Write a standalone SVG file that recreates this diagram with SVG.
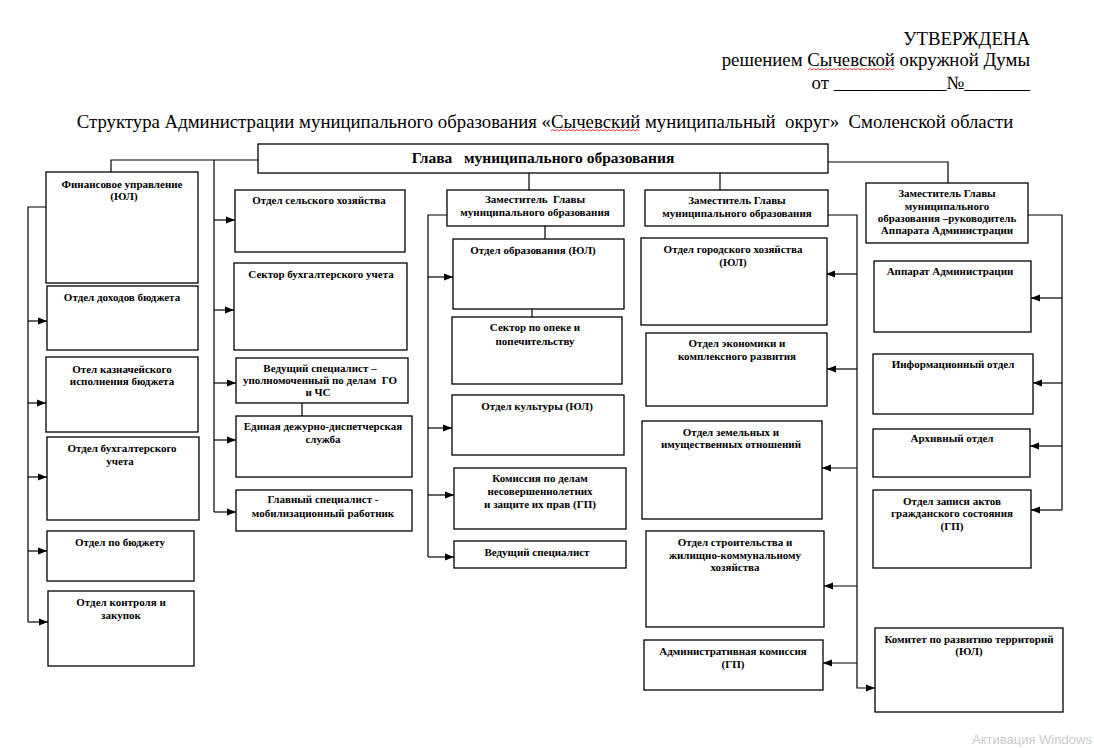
<svg xmlns="http://www.w3.org/2000/svg" width="1094" height="748" viewBox="0 0 1094 748">
<defs>
<marker id="ah" markerWidth="9" markerHeight="8" refX="9" refY="4" orient="auto" markerUnits="userSpaceOnUse"><path d="M0,0.5 L9,4 L0,7.5 z" fill="#000"/></marker>
<style>
.box{fill:#fff;stroke:#000;stroke-width:1.3}
.lbl{font-family:"Liberation Serif","Times New Roman",serif;font-weight:bold;font-size:11px;text-anchor:middle;fill:#000}
.head{font-family:"Liberation Serif","Times New Roman",serif;font-weight:bold;font-size:15.5px;text-anchor:middle;fill:#000}
.hdr{font-family:"Liberation Serif","Times New Roman",serif;font-size:18.8px;fill:#000}
.ln{fill:none;stroke:#000;stroke-width:1.2}
.arr{marker-end:url(#ah)}
.sq{fill:none;stroke:#e03030;stroke-width:0.9}
</style>
</defs>
<rect width="1094" height="748" fill="#fff"/>

<g id="header">
<text class="hdr" x="1030" y="45" text-anchor="end">УТВЕРЖДЕНА</text>
<text class="hdr" x="1030" y="66" text-anchor="end">решением Сычевской окружной Думы</text>
<text class="hdr" x="1030" y="89" text-anchor="end">от ____________№_______</text>
<path class="sq" d="M808,70 l2,-1.5 l2,1.5 l2,-1.5 l2,1.5 l2,-1.5 l2,1.5 l2,-1.5 l2,1.5 l2,-1.5 l2,1.5 l2,-1.5 l2,1.5 l2,-1.5 l2,1.5 l2,-1.5 l2,1.5 l2,-1.5 l2,1.5 l2,-1.5 l2,1.5 l2,-1.5 l2,1.5 l2,-1.5 l2,1.5 l2,-1.5 l2,1.5 l2,-1.5 l2,1.5 l2,-1.5 l2,1.5 l2,-1.5 l2,1.5 l2,-1.5 l2,1.5 l2,-1.5 l2,1.5 l2,-1.5 l2,1.5 l2,-1.5 l2,1.5 l2,-1.5 l2,1.5 l2,-1.5"/>
<text class="hdr" x="545" y="128" text-anchor="middle" xml:space="preserve">Структура Администрации муниципального образования «Сычевский муниципальный  округ»  Смоленской области</text>
<path class="sq" d="M551,131 l2,-1.5 l2,1.5 l2,-1.5 l2,1.5 l2,-1.5 l2,1.5 l2,-1.5 l2,1.5 l2,-1.5 l2,1.5 l2,-1.5 l2,1.5 l2,-1.5 l2,1.5 l2,-1.5 l2,1.5 l2,-1.5 l2,1.5 l2,-1.5 l2,1.5 l2,-1.5 l2,1.5 l2,-1.5 l2,1.5 l2,-1.5 l2,1.5 l2,-1.5 l2,1.5 l2,-1.5 l2,1.5 l2,-1.5 l2,1.5 l2,-1.5 l2,1.5 l2,-1.5 l2,1.5 l2,-1.5 l2,1.5 l2,-1.5 l2,1.5 l2,-1.5 l2,1.5 l2,-1.5 l2,1.5"/>
</g>

<g id="connectors">
<path class="ln" d="M258,160 H111 V172"/>
<path class="ln" d="M214,160 V512"/>
<path class="ln arr" d="M214,220 H235"/>
<path class="ln arr" d="M214,310 H234"/>
<path class="ln arr" d="M214,383 H236"/>
<path class="ln arr" d="M214,440 H236"/>
<path class="ln arr" d="M214,512 H236"/>
<path class="ln" d="M46,207 H28 V622"/>
<path class="ln arr" d="M28,321 H47"/>
<path class="ln arr" d="M28,403 H46"/>
<path class="ln arr" d="M28,477 H47"/>
<path class="ln arr" d="M28,551 H47"/>
<path class="ln arr" d="M28,622 H48"/>
<path class="ln" d="M302,403 V416"/>
<path class="ln" d="M529,173 V190"/>
<path class="ln" d="M545,226 V239"/>
<path class="ln" d="M532,309 V317"/>
<path class="ln" d="M447,215 H428 V557"/>
<path class="ln arr" d="M428,277 H453"/>
<path class="ln arr" d="M428,428 H452"/>
<path class="ln arr" d="M428,495 H454"/>
<path class="ln arr" d="M428,557 H454"/>
<path class="ln" d="M720,173 V190"/>
<path class="ln arr" d="M828,215 H857 V688 H875"/>
<path class="ln arr" d="M857,274 H826"/>
<path class="ln arr" d="M857,369 H827"/>
<path class="ln arr" d="M857,468 H822"/>
<path class="ln arr" d="M857,586 H824"/>
<path class="ln arr" d="M857,663 H823"/>
<path class="ln" d="M828,162 H948 V183"/>
<path class="ln" d="M1028,215 H1062 V510"/>
<path class="ln arr" d="M1062,298 H1031"/>
<path class="ln arr" d="M1062,383 H1033"/>
<path class="ln arr" d="M1062,446 H1030"/>
<path class="ln arr" d="M1062,510 H1031"/>
</g>

<g id="n-head"><rect class="box" x="258" y="144" width="570" height="29"/><text class="head" x="543" y="163" xml:space="preserve">Глава   муниципального образования</text></g>

<g id="n-fin"><rect class="box" x="46" y="172" width="152" height="111"/><text class="lbl" x="122" y="188">Финансовое управление</text><text class="lbl" x="124" y="200">(ЮЛ)</text></g>
<g id="n-dohod"><rect class="box" x="47" y="286" width="151" height="64"/><text class="lbl" x="122" y="301">Отдел доходов бюджета</text></g>
<g id="n-kazn"><rect class="box" x="46" y="357" width="152" height="75"/><text class="lbl" x="122" y="373">Отел казначейского</text><text class="lbl" x="122" y="385">исполнения бюджета</text></g>
<g id="n-buh"><rect class="box" x="47" y="437" width="152" height="83"/><text class="lbl" x="122" y="452">Отдел бухгалтерского</text><text class="lbl" x="120" y="465">учета</text></g>
<g id="n-budg"><rect class="box" x="47" y="531" width="147" height="50"/><text class="lbl" x="120" y="546">Отдел по бюджету</text></g>
<g id="n-kontr"><rect class="box" x="48" y="591" width="146" height="75"/><text class="lbl" x="121" y="606">Отдел контроля и</text><text class="lbl" x="121" y="619">закупок</text></g>

<g id="n-selh"><rect class="box" x="235" y="190" width="170" height="62"/><text class="lbl" x="319" y="204">Отдел сельского хозяйства</text></g>
<g id="n-sektbuh"><rect class="box" x="234" y="263" width="173" height="87"/><text class="lbl" x="321" y="278">Сектор бухгалтерского учета</text></g>
<g id="n-go"><rect class="box" x="236" y="358" width="172" height="45"/><text class="lbl" x="320" y="372">Ведущий специалист –</text><text class="lbl" x="320" y="384" xml:space="preserve">уполномоченный по делам  ГО</text><text class="lbl" x="318" y="396">и ЧС</text></g>
<g id="n-edds"><rect class="box" x="236" y="416" width="176" height="61"/><text class="lbl" x="323" y="430">Единая дежурно-диспетчерская</text><text class="lbl" x="323" y="443">служба</text></g>
<g id="n-mob"><rect class="box" x="236" y="490" width="176" height="41"/><text class="lbl" x="323" y="503">Главный специалист -</text><text class="lbl" x="323" y="517">мобилизационный работник</text></g>

<g id="n-dep1"><rect class="box" x="447" y="190" width="177" height="36"/><text class="lbl" x="535" y="203" xml:space="preserve">Заместитель  Главы</text><text class="lbl" x="535" y="216">муниципального образования</text></g>
<g id="n-obr"><rect class="box" x="453" y="239" width="171" height="70"/><text class="lbl" x="533" y="254">Отдел образования (ЮЛ)</text></g>
<g id="n-opeka"><rect class="box" x="452" y="317" width="170" height="67"/><text class="lbl" x="535" y="331">Сектор по опеке и</text><text class="lbl" x="535" y="345">попечительству</text></g>
<g id="n-kult"><rect class="box" x="452" y="395" width="172" height="60"/><text class="lbl" x="537" y="410">Отдел культуры (ЮЛ)</text></g>
<g id="n-kdn"><rect class="box" x="454" y="468" width="172" height="61"/><text class="lbl" x="540" y="482">Комиссия по делам</text><text class="lbl" x="540" y="495">несовершеннолетних</text><text class="lbl" x="540" y="508">и защите их прав (ГП)</text></g>
<g id="n-ved"><rect class="box" x="454" y="541" width="172" height="27"/><text class="lbl" x="537" y="556">Ведущий специалист</text></g>

<g id="n-dep2"><rect class="box" x="645" y="190" width="183" height="36"/><text class="lbl" x="737" y="204">Заместитель Главы</text><text class="lbl" x="737" y="217">муниципального образования</text></g>
<g id="n-gorh"><rect class="box" x="641" y="238" width="186" height="87"/><text class="lbl" x="733" y="253">Отдел городского хозяйства</text><text class="lbl" x="733" y="266">(ЮЛ)</text></g>
<g id="n-econ"><rect class="box" x="646" y="333" width="181" height="73"/><text class="lbl" x="737" y="347">Отдел экономики и</text><text class="lbl" x="737" y="360">комплексного развития</text></g>
<g id="n-zem"><rect class="box" x="642" y="421" width="180" height="98"/><text class="lbl" x="731" y="436">Отдел земельных и</text><text class="lbl" x="731" y="448">имущественных отношений</text></g>
<g id="n-stroi"><rect class="box" x="646" y="531" width="178" height="96"/><text class="lbl" x="735" y="546">Отдел строительства и</text><text class="lbl" x="735" y="559">жилищно-коммунальному</text><text class="lbl" x="735" y="571">хозяйства</text></g>
<g id="n-admk"><rect class="box" x="644" y="640" width="179" height="50"/><text class="lbl" x="733" y="655">Административная комиссия</text><text class="lbl" x="733" y="668">(ГП)</text></g>

<g id="n-dep3"><rect class="box" x="866" y="183" width="162" height="60"/><text class="lbl" x="947" y="197">Заместитель Главы</text><text class="lbl" x="947" y="210">муниципального</text><text class="lbl" x="947" y="222">образования –руководитель</text><text class="lbl" x="947" y="234">Аппарата Администрации</text></g>
<g id="n-app"><rect class="box" x="874" y="261" width="157" height="71"/><text class="lbl" x="950" y="275">Аппарат Администрации</text></g>
<g id="n-info"><rect class="box" x="873" y="354" width="160" height="60"/><text class="lbl" x="953" y="368">Информационный отдел</text></g>
<g id="n-arh"><rect class="box" x="873" y="429" width="157" height="48"/><text class="lbl" x="952" y="442">Архивный отдел</text></g>
<g id="n-zags"><rect class="box" x="873" y="490" width="158" height="78"/><text class="lbl" x="952" y="505">Отдел записи актов</text><text class="lbl" x="952" y="517">гражданского состояния</text><text class="lbl" x="952" y="530">(ГП)</text></g>
<g id="n-komter"><rect class="box" x="875" y="628" width="188" height="84"/><text class="lbl" x="969" y="643">Комитет по развитию территорий</text><text class="lbl" x="969" y="655">(ЮЛ)</text></g>

<text x="972" y="744" font-family="'Liberation Sans',Arial,sans-serif" font-size="13" fill="#cccccc">Активация Windows</text>
</svg>
